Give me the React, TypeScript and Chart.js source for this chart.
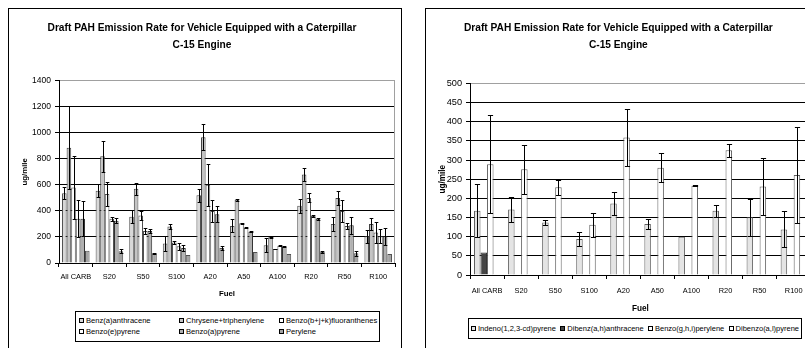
import React, { useEffect, useRef } from 'react';
import { Chart, registerables } from 'chart.js';
Chart.register(...registerables);

// ---------- data ----------
const categories = ['All CARB', 'S20', 'S50', 'S100', 'A20', 'A50', 'A100', 'R20', 'R50', 'R100'];
const chartTitle = ['Draft PAH Emission Rate for Vehicle Equipped with a Caterpillar', 'C-15 Engine'];
const yTitle = 'ug/mile';
const xTitle = 'Fuel';

// left chart
const leftNames = ['Benz(a)anthracene', 'Chrysene+triphenylene', 'Benzo(b+j+k)fluoranthenes', 'Benzo(e)pyrene', 'Benzo(a)pyrene', 'Perylene'];
const benzAnthracene = [535, 555, 355, 150, 520, 285, 136, 440, 300, 205];
const benzAnthraceneErr = [45, 50, 50, 55, 50, 50, 55, 55, 55, 50];
const chrysene = [885, 820, 570, 280, 965, 485, 197, 680, 500, 300];
const chryseneErr = [320, 120, 45, 20, 100, 10, 5, 50, 55, 45];
const benzoBJK = [580, 530, 365, 158, 600, 305, 108, 500, 400, 235];
const benzoBJKErr = [245, 90, 35, 10, 160, 5, 3, 35, 85, 80];
const benzoE = [340, 340, 245, 128, 400, 270, 133, 360, 285, 205];
const benzoEErr = [140, 15, 20, 25, 85, 5, 3, 10, 25, 55];
const benzoA = [340, 325, 245, 115, 375, 240, 126, 340, 290, 205];
const benzoAErr = [135, 20, 15, 25, 60, 3, 3, 8, 65, 65];
const perylene = [95, 90, 75, 62, 115, 85, 69, 85, 75, 70];
const peryleneErr = [0, 15, 5, 0, 15, 0, 0, 10, 20, 0];
const leftYTicks = [0, 200, 400, 600, 800, 1000, 1200, 1400];

// right chart
const rightNames = ['Indeno(1,2,3-cd)pyrene', 'Dibenz(a,h)anthracene', 'Benzo(g,h,i)perylene', 'Dibenzo(a,l)pyrene'];
const indeno = [168, 171, 137, 94, 187, 133, 100, 168, 151, 119];
const indenoErr = [70, 33, 7, 17, 30, 14, 0, 16, 48, 47];
const dibenzAH = [59, 0, 0, 0, 0, 0, 0, 0, 0, 0];
const dibenzAHErr = [0, 0, 0, 0, 0, 0, 0, 0, 0, 0];
const benzoGHI = [289, 276, 229, 131, 359, 280, 233, 326, 231, 261];
const benzoGHIErr = [128, 64, 19, 31, 74, 38, 1, 17, 74, 126];
const dibenzoAL = [0, 0, 0, 0, 0, 0, 0, 0, 0, 0];
const dibenzoALErr = [0, 0, 0, 0, 0, 0, 0, 0, 0, 0];
const rightYTicks = [0, 50, 100, 150, 200, 250, 300, 350, 400, 450, 500];

// ---------- styles ----------
const FAMILY = "'Liberation Sans', Arial, Helvetica, sans-serif";
const leftFill = ['#d8d8d8', '#c4c4c4', '#ffffff', '#ffffff', '#b0b0b0', '#a4a4a4'];
const leftEdge = ['#505050', '#404040', '#505050', '#505050', '#303030', '#505050'];
const rightFill = ['#e4e4e4', '#454545', '#ffffff', '#ffffff'];
const rightEdge = ['#606060', '#303030', '#606060', '#606060'];

// ---------- plugins ----------
function errorBars(errors: number[][]) {
  return {
    id: 'errorBars',
    afterDatasetsDraw(chart: any) {
      const ctx = chart.ctx;
      const y = chart.scales.y;
      ctx.save();
      ctx.strokeStyle = '#000';
      ctx.lineWidth = 1;
      chart.data.datasets.forEach((ds: any, i: number) => {
        const meta = chart.getDatasetMeta(i);
        meta.data.forEach((bar: any, j: number) => {
          const v = ds.data[j];
          const e = errors[i][j];
          if (v == null || !e) return;
          const top = Math.round(y.getPixelForValue(v + e)) + 0.5;
          const bot = Math.round(y.getPixelForValue(Math.max(0, v - e))) + 0.5;
          const x = Math.round(bar.x) + 0.5;
          const hw = Math.max(1.5, bar.width * 0.4);
          ctx.beginPath();
          ctx.moveTo(x, top); ctx.lineTo(x, bot);
          ctx.moveTo(x - hw, top); ctx.lineTo(x + hw, top);
          ctx.moveTo(x - hw, bot); ctx.lineTo(x + hw, bot);
          ctx.stroke();
        });
      });
      ctx.restore();
    },
  };
}
const plotBorder = {
  id: 'plotBorder',
  beforeDatasetsDraw(chart: any) {
    const { top, right, bottom } = chart.chartArea;
    const ctx = chart.ctx;
    ctx.save();
    ctx.strokeStyle = '#a0a0a0';
    ctx.lineWidth = 1;
    const r = Math.round(right) - 0.5;
    ctx.beginPath();
    ctx.moveTo(r, top);
    ctx.lineTo(r, bottom);
    ctx.stroke();
    ctx.restore();
  },
};

type Geo = {
  W: number; H: number; yWidth: number; xHeight: number; padRight: number;
  titleTop: number; titleBottom: number; yTitlePad: number; xTitlePad: number;
  tickFont: number; xTickFont: number; axisFont: number; catPct: number; xTickPad: number;
};

function makeConfig(names: string[], series: number[][], errors: number[][], fills: string[], edges: string[], ticks: number[], g: Geo): any {
  const yMax = ticks[ticks.length - 1];
  return {
    type: 'bar',
    data: {
      labels: categories,
      datasets: names.map((n, i) => ({
        label: n,
        data: series[i].map((v) => (v ? v : null)),
        backgroundColor: fills[i],
        borderColor: edges[i],
        borderWidth: 1,
        barPercentage: 1,
        categoryPercentage: g.catPct,
      })),
    },
    options: {
      responsive: false,
      animation: false,
      devicePixelRatio: 1,
      layout: { padding: { left: 0, right: g.padRight, top: 0, bottom: 0 } },
      plugins: {
        legend: { display: false },
        tooltip: { enabled: false },
        title: {
          display: true,
          text: chartTitle,
          color: '#000',
          font: { family: FAMILY, size: 10.2, weight: 'bold', lineHeight: '17px' },
          padding: { top: g.titleTop, bottom: g.titleBottom },
        },
      },
      scales: {
        x: {
          grid: { display: true, drawOnChartArea: false, drawTicks: true, tickLength: 4, color: '#000', offset: true },
          border: { display: true, color: '#000', width: 1 },
          ticks: { color: '#000', font: { family: FAMILY, size: g.xTickFont, lineHeight: '12px' }, padding: g.xTickPad, maxRotation: 0, autoSkip: false },
          title: { display: true, text: xTitle, color: '#000', font: { family: FAMILY, size: g.axisFont, weight: 'bold', lineHeight: '12px' }, padding: { top: 0, bottom: g.xTitlePad } },
          afterFit: (s: any) => { s.height = g.xHeight; },
        },
        y: {
          min: ticks[0],
          max: yMax,
          grid: {
            color: (c: any) => (c.tick && c.tick.value === yMax ? '#a0a0a0' : '#000'),
            tickColor: '#000',
            tickLength: 4,
            drawTicks: true,
          },
          border: { display: true, color: '#000', width: 1 },
          ticks: {
            stepSize: ticks[1] - ticks[0],
            color: '#000',
            font: { family: FAMILY, size: g.tickFont, lineHeight: '12px' },
            padding: 4,
            callback: (v: any) => String(v),
          },
          title: { display: true, text: yTitle, color: '#000', font: { family: FAMILY, size: g.axisFont, weight: 'bold', lineHeight: '12px' }, padding: { top: g.yTitlePad, bottom: 0 } },
          afterFit: (s: any) => { s.width = g.yWidth; },
        },
      },
    },
    plugins: [plotBorder, errorBars(errors)],
  };
}

function BarCanvas({ cfg, left, top, W, H }: { cfg: () => any; left: number; top: number; W: number; H: number }) {
  const ref = useRef<HTMLCanvasElement>(null);
  useEffect(() => {
    if (!ref.current) return;
    const chart = new Chart(ref.current, cfg());
    return () => chart.destroy();
  }, []);
  return <canvas ref={ref} width={W} height={H} style={{ position: 'absolute', left, top, width: W, height: H }} />;
}

function Swatch({ color }: { color: string }) {
  return <span style={{ display: 'inline-block', width: 3, height: 3, border: '1px solid #000', background: color, marginRight: 2, verticalAlign: 'middle', position: 'relative', top: -1 }} />;
}

const leftGeo: Geo = { W: 392, H: 300, yWidth: 50, xHeight: 46, padRight: 6, titleTop: 10.5, titleBottom: 27.2, yTitlePad: 10, xTitlePad: 9, tickFont: 8.5, xTickFont: 7.4, axisFont: 7.8, catPct: 0.82, xTickPad: 4 };
const rightGeo: Geo = { W: 392, H: 320, yWidth: 44, xHeight: 54, padRight: 7.3, titleTop: 10.5, titleBottom: 30, yTitlePad: 11, xTitlePad: 14, tickFont: 9.2, xTickFont: 7.4, axisFont: 8.2, catPct: 0.765, xTickPad: 6 };

export default function App() {
  const leftSeries = [benzAnthracene, chrysene, benzoBJK, benzoE, benzoA, perylene];
  const leftErrors = [benzAnthraceneErr, chryseneErr, benzoBJKErr, benzoEErr, benzoAErr, peryleneErr];
  const rightSeries = [indeno, dibenzAH, benzoGHI, dibenzoAL];
  const rightErrors = [indenoErr, dibenzAHErr, benzoGHIErr, dibenzoALErr];
  const box: React.CSSProperties = { position: 'absolute', top: 8, width: 394, height: 400, border: '1px solid #000', boxSizing: 'border-box', background: '#fff' };
  return (
    <div style={{ position: 'fixed', left: 0, top: 0, width: 805, height: 348, overflow: 'hidden', background: '#fff' }}>
      <div style={{ ...box, left: 8 }} />
      <div style={{ ...box, left: 425 }} />
      <BarCanvas cfg={() => makeConfig(leftNames, leftSeries, leftErrors, leftFill, leftEdge, leftYTicks, leftGeo)} left={9} top={9} W={leftGeo.W} H={leftGeo.H} />
      <BarCanvas cfg={() => makeConfig(rightNames, rightSeries, rightErrors, rightFill, rightEdge, rightYTicks, rightGeo)} left={426} top={9} W={rightGeo.W} H={rightGeo.H} />
      <div style={{ position: 'absolute', left: 75, top: 311, width: 305, height: 31, border: '1px solid #000', boxSizing: 'border-box', background: '#fff', fontFamily: FAMILY, fontSize: 7.6, color: '#000', display: 'grid', gridTemplateColumns: '100px 100px 100px', gridAutoRows: '11px', paddingLeft: 3, paddingTop: 3, lineHeight: '11px', whiteSpace: 'nowrap' }}>
        {leftNames.map((n, i) => (
          <div key={n}><Swatch color={leftFill[i]} />{n}</div>
        ))}
      </div>
      <div style={{ position: 'absolute', left: 468, top: 318, width: 334, height: 21, border: '1px solid #000', boxSizing: 'border-box', background: '#fff', fontFamily: FAMILY, fontSize: 7.5, color: '#000', display: 'flex', alignItems: 'center', justifyContent: 'space-between', paddingLeft: 2, paddingRight: 2, whiteSpace: 'nowrap' }}>
        {rightNames.map((n, i) => (
          <div key={n}><Swatch color={rightFill[i]} />{n}</div>
        ))}
      </div>
    </div>
  );
}
